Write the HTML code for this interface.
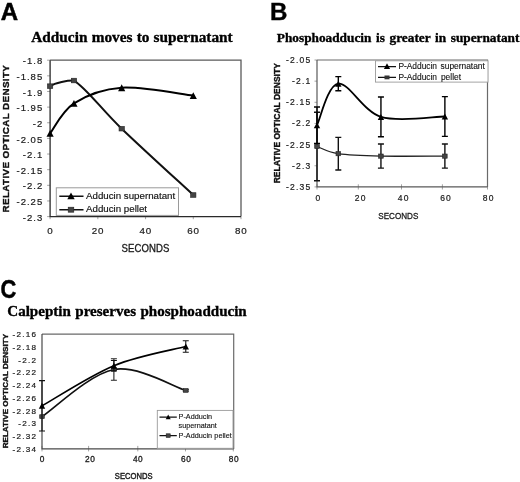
<!DOCTYPE html>
<html><head><meta charset="utf-8"><title>Adducin figure</title>
<style>
html,body{margin:0;padding:0;background:#fff;}
body{width:520px;height:482px;overflow:hidden;}
svg{display:block;will-change:transform;}
</style></head>
<body>
<svg width="520" height="482" viewBox="0 0 520 482">
<rect width="520" height="482" fill="#fff"/>
<text x="0.8" y="19.75" text-anchor="start" style="font-family:'Liberation Sans';font-size:24.0px;font-weight:bold;stroke:#000;stroke-width:0.5px;" fill="#000" >A</text>
<text x="270.1" y="19.6" text-anchor="start" style="font-family:'Liberation Sans';font-size:24.1px;font-weight:bold;stroke:#000;stroke-width:0.4px;" fill="#000" >B</text>
<g transform="translate(0.6,0) scale(0.855,1)">
<text x="-0.2" y="297.7" text-anchor="start" style="font-family:'Liberation Sans';font-size:25.6px;font-weight:bold;stroke:#000;stroke-width:0.5px;" fill="#000" >C</text>
</g>
<text x="31.3" y="41.8" text-anchor="start" style="font-family:'Liberation Serif';font-size:15.3px;font-weight:bold;stroke:#000;stroke-width:0.35px;word-spacing:0.4px;" fill="#000" >Adducin moves to supernatant</text>
<text x="276.8" y="42.2" text-anchor="start" style="font-family:'Liberation Serif';font-size:13.3px;font-weight:bold;stroke:#000;stroke-width:0.35px;word-spacing:1.3px;" fill="#000" >Phosphoadducin is greater in supernatant</text>
<text x="7.3" y="315.6" text-anchor="start" style="font-family:'Liberation Serif';font-size:15.05px;font-weight:bold;stroke:#000;stroke-width:0.35px;word-spacing:0.7px;" fill="#000" >Calpeptin preserves phosphoadducin</text>
<path d="M47.1,60.2 H50.1" stroke="#999" stroke-width="0.9"/>
<text x="43.2" y="64.3" text-anchor="end" style="font-family:'Liberation Sans';font-size:9.5px;font-weight:normal;stroke:#1a1a1a;stroke-width:0.2px;letter-spacing:1.0px;" fill="#1a1a1a" >-1.8</text>
<path d="M47.1,75.84 H50.1" stroke="#999" stroke-width="0.9"/>
<text x="43.2" y="79.94" text-anchor="end" style="font-family:'Liberation Sans';font-size:9.5px;font-weight:normal;stroke:#1a1a1a;stroke-width:0.2px;letter-spacing:1.0px;" fill="#1a1a1a" >-1.85</text>
<path d="M47.1,91.48 H50.1" stroke="#999" stroke-width="0.9"/>
<text x="43.2" y="95.58" text-anchor="end" style="font-family:'Liberation Sans';font-size:9.5px;font-weight:normal;stroke:#1a1a1a;stroke-width:0.2px;letter-spacing:1.0px;" fill="#1a1a1a" >-1.9</text>
<path d="M47.1,107.12 H50.1" stroke="#999" stroke-width="0.9"/>
<text x="43.2" y="111.22" text-anchor="end" style="font-family:'Liberation Sans';font-size:9.5px;font-weight:normal;stroke:#1a1a1a;stroke-width:0.2px;letter-spacing:1.0px;" fill="#1a1a1a" >-1.95</text>
<path d="M47.1,122.76 H50.1" stroke="#999" stroke-width="0.9"/>
<text x="43.2" y="126.86" text-anchor="end" style="font-family:'Liberation Sans';font-size:9.5px;font-weight:normal;stroke:#1a1a1a;stroke-width:0.2px;letter-spacing:1.0px;" fill="#1a1a1a" >-2</text>
<path d="M47.1,138.4 H50.1" stroke="#999" stroke-width="0.9"/>
<text x="43.2" y="142.5" text-anchor="end" style="font-family:'Liberation Sans';font-size:9.5px;font-weight:normal;stroke:#1a1a1a;stroke-width:0.2px;letter-spacing:1.0px;" fill="#1a1a1a" >-2.05</text>
<path d="M47.1,154.04 H50.1" stroke="#999" stroke-width="0.9"/>
<text x="43.2" y="158.14" text-anchor="end" style="font-family:'Liberation Sans';font-size:9.5px;font-weight:normal;stroke:#1a1a1a;stroke-width:0.2px;letter-spacing:1.0px;" fill="#1a1a1a" >-2.1</text>
<path d="M47.1,169.68 H50.1" stroke="#999" stroke-width="0.9"/>
<text x="43.2" y="173.78" text-anchor="end" style="font-family:'Liberation Sans';font-size:9.5px;font-weight:normal;stroke:#1a1a1a;stroke-width:0.2px;letter-spacing:1.0px;" fill="#1a1a1a" >-2.15</text>
<path d="M47.1,185.32 H50.1" stroke="#999" stroke-width="0.9"/>
<text x="43.2" y="189.42" text-anchor="end" style="font-family:'Liberation Sans';font-size:9.5px;font-weight:normal;stroke:#1a1a1a;stroke-width:0.2px;letter-spacing:1.0px;" fill="#1a1a1a" >-2.2</text>
<path d="M47.1,200.96 H50.1" stroke="#999" stroke-width="0.9"/>
<text x="43.2" y="205.06" text-anchor="end" style="font-family:'Liberation Sans';font-size:9.5px;font-weight:normal;stroke:#1a1a1a;stroke-width:0.2px;letter-spacing:1.0px;" fill="#1a1a1a" >-2.25</text>
<path d="M47.1,216.6 H50.1" stroke="#999" stroke-width="0.9"/>
<text x="43.2" y="220.7" text-anchor="end" style="font-family:'Liberation Sans';font-size:9.5px;font-weight:normal;stroke:#1a1a1a;stroke-width:0.2px;letter-spacing:1.0px;" fill="#1a1a1a" >-2.3</text>
<path d="M50.1,216.6 V219.2" stroke="#999" stroke-width="0.9"/>
<text x="50.3" y="234.2" text-anchor="middle" style="font-family:'Liberation Sans';font-size:9.8px;font-weight:normal;stroke:#1a1a1a;stroke-width:0.2px;letter-spacing:0.8px;" fill="#1a1a1a" >0</text>
<path d="M97.83,216.6 V219.2" stroke="#999" stroke-width="0.9"/>
<text x="98.03" y="234.2" text-anchor="middle" style="font-family:'Liberation Sans';font-size:9.8px;font-weight:normal;stroke:#1a1a1a;stroke-width:0.2px;letter-spacing:0.8px;" fill="#1a1a1a" >20</text>
<path d="M145.55,216.6 V219.2" stroke="#999" stroke-width="0.9"/>
<text x="145.75" y="234.2" text-anchor="middle" style="font-family:'Liberation Sans';font-size:9.8px;font-weight:normal;stroke:#1a1a1a;stroke-width:0.2px;letter-spacing:0.8px;" fill="#1a1a1a" >40</text>
<path d="M193.28,216.6 V219.2" stroke="#999" stroke-width="0.9"/>
<text x="193.48" y="234.2" text-anchor="middle" style="font-family:'Liberation Sans';font-size:9.8px;font-weight:normal;stroke:#1a1a1a;stroke-width:0.2px;letter-spacing:0.8px;" fill="#1a1a1a" >60</text>
<path d="M241,216.6 V219.2" stroke="#999" stroke-width="0.9"/>
<text x="241.2" y="234.2" text-anchor="middle" style="font-family:'Liberation Sans';font-size:9.8px;font-weight:normal;stroke:#1a1a1a;stroke-width:0.2px;letter-spacing:0.8px;" fill="#1a1a1a" >80</text>
<path d="M50.1,60.2 H241 V216.6" fill="none" stroke="#5a5a5a" stroke-width="1.3"/>
<path d="M50.1,60.2 V216.6 H241" fill="none" stroke="#2a2a2a" stroke-width="1.3"/>
<text transform="translate(145.5,251.6) scale(0.94,1)" text-anchor="middle" style="font-family:'Liberation Sans';font-size:10.2px;font-weight:normal;letter-spacing:0.1px;stroke:#1a1a1a;stroke-width:0.3px" fill="#1a1a1a">SECONDS</text>
<text transform="translate(9.2,138.6) rotate(-90)" text-anchor="middle" style="font-family:'Liberation Sans';font-size:9.8px;font-weight:bold;letter-spacing:0.38px;stroke:#111;stroke-width:0.35px" fill="#111">RELATIVE OPTICAL DENSITY</text>
<rect x="56.3" y="187.8" width="122.2" height="27.6" fill="#fff" stroke="#9a9a9a" stroke-width="1"/>
<path d="M59.3,196.2 H83.5 M59.3,209.8 H83.5" stroke="#111" stroke-width="1.6"/>
<path d="M71,192.4 L74.7,199.2 L67.3,199.2Z" fill="#000"/>
<rect x="68.2" y="207.2" width="5.6" height="5" fill="#444" stroke="#222" stroke-width="0.6"/>
<text x="86" y="198.9" text-anchor="start" style="font-family:'Liberation Sans';font-size:9.72px;font-weight:normal;stroke:#111;stroke-width:0.15px;" fill="#111" >Adducin supernatant</text>
<text x="86" y="212.3" text-anchor="start" style="font-family:'Liberation Sans';font-size:9.72px;font-weight:normal;stroke:#111;stroke-width:0.15px;" fill="#111" >Adducin pellet</text>
<path d="M50.1,86.16 C55.1,82.56 67.96,80.33 73.96,80.53 C85.89,87.62 101.8,109.62 121.69,128.7 C141.57,147.78 181.34,183.96 193.28,195.02" fill="none" stroke="#111" stroke-width="2.0" stroke-linecap="round"/>
<rect x="47.45" y="83.86" width="5.3" height="4.6" fill="#444" stroke="#222" stroke-width="0.6"/>
<rect x="71.31" y="78.23" width="5.3" height="4.6" fill="#444" stroke="#222" stroke-width="0.6"/>
<rect x="119.04" y="126.4" width="5.3" height="4.6" fill="#444" stroke="#222" stroke-width="0.6"/>
<rect x="190.62" y="192.72" width="5.3" height="4.6" fill="#444" stroke="#222" stroke-width="0.6"/>
<path d="M50.1,133.4 C54.08,128.39 62.03,110.98 73.96,103.37 C85.89,95.75 101.8,89.03 121.69,87.73 C141.57,86.42 181.34,94.24 193.28,95.55" fill="none" stroke="#000" stroke-width="2.0" stroke-linecap="round"/>
<path d="M50.1,130 L53.7,136.8 L46.5,136.8Z" fill="#000"/>
<path d="M73.96,99.97 L77.56,106.77 L70.36,106.77Z" fill="#000"/>
<path d="M121.69,84.33 L125.29,91.13 L118.09,91.13Z" fill="#000"/>
<path d="M193.28,92.15 L196.88,98.95 L189.68,98.95Z" fill="#000"/>
<path d="M314.5,60 H317" stroke="#999" stroke-width="0.9"/>
<text x="311.4" y="63" text-anchor="end" style="font-family:'Liberation Sans';font-size:8.5px;font-weight:normal;stroke:#1a1a1a;stroke-width:0.2px;letter-spacing:1.2px;" fill="#1a1a1a" >-2.05</text>
<path d="M314.5,81.15 H317" stroke="#999" stroke-width="0.9"/>
<text x="311.4" y="84.15" text-anchor="end" style="font-family:'Liberation Sans';font-size:8.5px;font-weight:normal;stroke:#1a1a1a;stroke-width:0.2px;letter-spacing:1.2px;" fill="#1a1a1a" >-2.1</text>
<path d="M314.5,102.3 H317" stroke="#999" stroke-width="0.9"/>
<text x="311.4" y="105.3" text-anchor="end" style="font-family:'Liberation Sans';font-size:8.5px;font-weight:normal;stroke:#1a1a1a;stroke-width:0.2px;letter-spacing:1.2px;" fill="#1a1a1a" >-2.15</text>
<path d="M314.5,123.45 H317" stroke="#999" stroke-width="0.9"/>
<text x="311.4" y="126.45" text-anchor="end" style="font-family:'Liberation Sans';font-size:8.5px;font-weight:normal;stroke:#1a1a1a;stroke-width:0.2px;letter-spacing:1.2px;" fill="#1a1a1a" >-2.2</text>
<path d="M314.5,144.6 H317" stroke="#999" stroke-width="0.9"/>
<text x="311.4" y="147.6" text-anchor="end" style="font-family:'Liberation Sans';font-size:8.5px;font-weight:normal;stroke:#1a1a1a;stroke-width:0.2px;letter-spacing:1.2px;" fill="#1a1a1a" >-2.25</text>
<path d="M314.5,165.75 H317" stroke="#999" stroke-width="0.9"/>
<text x="311.4" y="168.75" text-anchor="end" style="font-family:'Liberation Sans';font-size:8.5px;font-weight:normal;stroke:#1a1a1a;stroke-width:0.2px;letter-spacing:1.2px;" fill="#1a1a1a" >-2.3</text>
<path d="M314.5,186.9 H317" stroke="#999" stroke-width="0.9"/>
<text x="311.4" y="189.9" text-anchor="end" style="font-family:'Liberation Sans';font-size:8.5px;font-weight:normal;stroke:#1a1a1a;stroke-width:0.2px;letter-spacing:1.2px;" fill="#1a1a1a" >-2.35</text>
<path d="M317,184.3 V189.5" stroke="#999" stroke-width="0.9"/>
<text x="318.4" y="200.9" text-anchor="middle" style="font-family:'Liberation Sans';font-size:8.5px;font-weight:normal;stroke:#1a1a1a;stroke-width:0.2px;letter-spacing:1.2px;" fill="#1a1a1a" >0</text>
<path d="M358.3,184.3 V189.5" stroke="#999" stroke-width="0.9"/>
<text x="360.8" y="200.9" text-anchor="middle" style="font-family:'Liberation Sans';font-size:8.5px;font-weight:normal;stroke:#1a1a1a;stroke-width:0.2px;letter-spacing:1.2px;" fill="#1a1a1a" >20</text>
<path d="M401.5,184.3 V189.5" stroke="#999" stroke-width="0.9"/>
<text x="403.8" y="200.9" text-anchor="middle" style="font-family:'Liberation Sans';font-size:8.5px;font-weight:normal;stroke:#1a1a1a;stroke-width:0.2px;letter-spacing:1.2px;" fill="#1a1a1a" >40</text>
<path d="M442.4,184.3 V189.5" stroke="#999" stroke-width="0.9"/>
<text x="446.1" y="200.9" text-anchor="middle" style="font-family:'Liberation Sans';font-size:8.5px;font-weight:normal;stroke:#1a1a1a;stroke-width:0.2px;letter-spacing:1.2px;" fill="#1a1a1a" >60</text>
<path d="M487.5,184.3 V189.5" stroke="#999" stroke-width="0.9"/>
<text x="488.7" y="200.9" text-anchor="middle" style="font-family:'Liberation Sans';font-size:8.5px;font-weight:normal;stroke:#1a1a1a;stroke-width:0.2px;letter-spacing:1.2px;" fill="#1a1a1a" >80</text>
<path d="M317,60 H487.5 V186.9" fill="none" stroke="#6a6a6a" stroke-width="1.2"/>
<path d="M317,60 V186.9 H487.5" fill="none" stroke="#5a5a5a" stroke-width="1.2"/>
<text transform="translate(398.3,218.6) scale(0.87,1)" text-anchor="middle" style="font-family:'Liberation Sans';font-size:9.3px;font-weight:normal;letter-spacing:0.0px;stroke:#1a1a1a;stroke-width:0.3px" fill="#1a1a1a">SECONDS</text>
<text transform="translate(280.3,123.25) rotate(-90)" text-anchor="middle" style="font-family:'Liberation Sans';font-size:8.5px;font-weight:bold;letter-spacing:0.0px;stroke:#111;stroke-width:0.35px" fill="#111">RELATIVE OPTICAL DENSITY</text>
<rect x="375.5" y="60.8" width="112.5" height="21.3" fill="#fff" stroke="#9a9a9a" stroke-width="0.9"/>
<path d="M378,66.6 H396 M378,77.3 H396" stroke="#111" stroke-width="1.2"/>
<path d="M387,63.3 L390.1,68.9 L383.9,68.9Z" fill="#000"/>
<rect x="384.5" y="75.5" width="5" height="3.8" fill="#333"/>
<text x="398.4" y="68.9" text-anchor="start" style="font-family:'Liberation Sans';font-size:8.4px;font-weight:normal;stroke:#111;stroke-width:0.12px;word-spacing:1.2px;" fill="#111" >P-Adducin supernatant</text>
<text x="398.4" y="79.7" text-anchor="start" style="font-family:'Liberation Sans';font-size:8.4px;font-weight:normal;stroke:#111;stroke-width:0.12px;word-spacing:1.6px;" fill="#111" >P-Adducin pellet</text>
<path d="M317,146.5 C320.55,147.7 327.66,152.09 338.31,153.69 C348.97,155.29 363.18,155.7 380.94,156.11 C398.7,156.51 434.22,156.11 444.88,156.11" fill="none" stroke="#222" stroke-width="1.3" stroke-linecap="round"/>
<path d="M317,112.24 V180.77 M314,112.24 H320 M314,180.77 H320" stroke="#111" stroke-width="1.4" fill="none"/>
<path d="M338.31,137.41 V169.98 M335.31,137.41 H341.31 M335.31,169.98 H341.31" stroke="#111" stroke-width="1.4" fill="none"/>
<path d="M380.94,144.05 V168.16 M377.94,144.05 H383.94 M377.94,168.16 H383.94" stroke="#111" stroke-width="1.4" fill="none"/>
<path d="M444.88,144.05 V168.16 M441.88,144.05 H447.88 M441.88,168.16 H447.88" stroke="#111" stroke-width="1.4" fill="none"/>
<rect x="314.7" y="144.4" width="4.6" height="4.2" fill="#444" stroke="#222" stroke-width="0.6"/>
<rect x="336.01" y="151.59" width="4.6" height="4.2" fill="#444" stroke="#222" stroke-width="0.6"/>
<rect x="378.64" y="154.01" width="4.6" height="4.2" fill="#444" stroke="#222" stroke-width="0.6"/>
<rect x="442.57" y="154.01" width="4.6" height="4.2" fill="#444" stroke="#222" stroke-width="0.6"/>
<path d="M317,125.14 C320.55,118.23 327.66,85.06 338.31,83.69 C348.97,82.31 363.18,111.42 380.94,116.89 C398.7,122.36 434.22,116.58 444.88,116.51" fill="none" stroke="#000" stroke-width="1.8" stroke-linecap="round"/>
<path d="M317,106.95 V143.33 M314,106.95 H320 M314,143.33 H320" stroke="#000" stroke-width="1.4" fill="none"/>
<path d="M338.31,76.67 V90.71 M335.31,76.67 H341.31 M335.31,90.71 H341.31" stroke="#000" stroke-width="1.4" fill="none"/>
<path d="M380.94,97.01 V136.77 M377.94,97.01 H383.94 M377.94,136.77 H383.94" stroke="#000" stroke-width="1.4" fill="none"/>
<path d="M444.88,96.63 V136.39 M441.88,96.63 H447.88 M441.88,136.39 H447.88" stroke="#000" stroke-width="1.4" fill="none"/>
<path d="M317,122.14 L320.2,128.14 L313.8,128.14Z" fill="#000"/>
<path d="M338.31,80.69 L341.51,86.69 L335.11,86.69Z" fill="#000"/>
<path d="M380.94,113.89 L384.14,119.89 L377.74,119.89Z" fill="#000"/>
<path d="M444.88,113.51 L448.07,119.51 L441.68,119.51Z" fill="#000"/>
<text x="37.2" y="337.1" text-anchor="end" style="font-family:'Liberation Sans';font-size:8.1px;font-weight:normal;stroke:#1a1a1a;stroke-width:0.2px;letter-spacing:1.25px;" fill="#1a1a1a" >-2.16</text>
<text x="37.2" y="349.86" text-anchor="end" style="font-family:'Liberation Sans';font-size:8.1px;font-weight:normal;stroke:#1a1a1a;stroke-width:0.2px;letter-spacing:1.25px;" fill="#1a1a1a" >-2.18</text>
<text x="37.2" y="362.61" text-anchor="end" style="font-family:'Liberation Sans';font-size:8.1px;font-weight:normal;stroke:#1a1a1a;stroke-width:0.2px;letter-spacing:1.25px;" fill="#1a1a1a" >-2.2</text>
<text x="37.2" y="375.37" text-anchor="end" style="font-family:'Liberation Sans';font-size:8.1px;font-weight:normal;stroke:#1a1a1a;stroke-width:0.2px;letter-spacing:1.25px;" fill="#1a1a1a" >-2.22</text>
<text x="37.2" y="388.12" text-anchor="end" style="font-family:'Liberation Sans';font-size:8.1px;font-weight:normal;stroke:#1a1a1a;stroke-width:0.2px;letter-spacing:1.25px;" fill="#1a1a1a" >-2.24</text>
<text x="37.2" y="400.88" text-anchor="end" style="font-family:'Liberation Sans';font-size:8.1px;font-weight:normal;stroke:#1a1a1a;stroke-width:0.2px;letter-spacing:1.25px;" fill="#1a1a1a" >-2.26</text>
<text x="37.2" y="413.63" text-anchor="end" style="font-family:'Liberation Sans';font-size:8.1px;font-weight:normal;stroke:#1a1a1a;stroke-width:0.2px;letter-spacing:1.25px;" fill="#1a1a1a" >-2.28</text>
<text x="37.2" y="426.39" text-anchor="end" style="font-family:'Liberation Sans';font-size:8.1px;font-weight:normal;stroke:#1a1a1a;stroke-width:0.2px;letter-spacing:1.25px;" fill="#1a1a1a" >-2.3</text>
<text x="37.2" y="439.14" text-anchor="end" style="font-family:'Liberation Sans';font-size:8.1px;font-weight:normal;stroke:#1a1a1a;stroke-width:0.2px;letter-spacing:1.25px;" fill="#1a1a1a" >-2.32</text>
<text x="37.2" y="451.9" text-anchor="end" style="font-family:'Liberation Sans';font-size:8.1px;font-weight:normal;stroke:#1a1a1a;stroke-width:0.2px;letter-spacing:1.25px;" fill="#1a1a1a" >-2.34</text>
<path d="M42,445.9 V451.4" stroke="#999" stroke-width="0.9"/>
<text x="42.3" y="462" text-anchor="middle" style="font-family:'Liberation Sans';font-size:8.3px;font-weight:normal;stroke:#1a1a1a;stroke-width:0.3px;letter-spacing:0.6px;" fill="#1a1a1a" >0</text>
<path d="M88.6,445.9 V451.4" stroke="#999" stroke-width="0.9"/>
<text x="90.2" y="462" text-anchor="middle" style="font-family:'Liberation Sans';font-size:8.3px;font-weight:normal;stroke:#1a1a1a;stroke-width:0.3px;letter-spacing:0.6px;" fill="#1a1a1a" >20</text>
<path d="M137.8,445.9 V451.4" stroke="#999" stroke-width="0.9"/>
<text x="138.1" y="462" text-anchor="middle" style="font-family:'Liberation Sans';font-size:8.3px;font-weight:normal;stroke:#1a1a1a;stroke-width:0.3px;letter-spacing:0.6px;" fill="#1a1a1a" >40</text>
<path d="M185.5,445.9 V451.4" stroke="#999" stroke-width="0.9"/>
<text x="186.2" y="462" text-anchor="middle" style="font-family:'Liberation Sans';font-size:8.3px;font-weight:normal;stroke:#1a1a1a;stroke-width:0.3px;letter-spacing:0.6px;" fill="#1a1a1a" >60</text>
<path d="M233.3,445.9 V451.4" stroke="#999" stroke-width="0.9"/>
<text x="234" y="462" text-anchor="middle" style="font-family:'Liberation Sans';font-size:8.3px;font-weight:normal;stroke:#1a1a1a;stroke-width:0.3px;letter-spacing:0.6px;" fill="#1a1a1a" >80</text>
<path d="M42,334.1 H233.7 V448.9" fill="none" stroke="#6a6a6a" stroke-width="1.2"/>
<path d="M42,334.1 V448.9 H233.7" fill="none" stroke="#4a4a4a" stroke-width="1.2"/>
<text transform="translate(133.7,478.9) scale(0.93,1)" text-anchor="middle" style="font-family:'Liberation Sans';font-size:8.2px;font-weight:normal;letter-spacing:0.0px;stroke:#1a1a1a;stroke-width:0.4px" fill="#1a1a1a">SECONDS</text>
<text transform="translate(8.4,391.15) rotate(-90)" text-anchor="middle" style="font-family:'Liberation Sans';font-size:8.1px;font-weight:bold;letter-spacing:0.0px;stroke:#111;stroke-width:0.35px" fill="#111">RELATIVE OPTICAL DENSITY</text>
<rect x="157.3" y="410.4" width="75.7" height="37.9" fill="#fff" stroke="#9a9a9a" stroke-width="0.9"/>
<path d="M159.5,417.2 H176.8 M159.5,435.7 H176.8" stroke="#111" stroke-width="1.2"/>
<path d="M168.2,414.5 L170.7,419.3 L165.7,419.3Z" fill="#000"/>
<rect x="166.2" y="433.8" width="4" height="3.6" fill="#444" stroke="#222" stroke-width="0.6"/>
<text x="178.6" y="419.3" text-anchor="start" style="font-family:'Liberation Sans';font-size:7.25px;font-weight:normal;stroke:#111;stroke-width:0.12px;" fill="#111" >P-Adducin</text>
<text x="178.6" y="428.3" text-anchor="start" style="font-family:'Liberation Sans';font-size:7.25px;font-weight:normal;stroke:#111;stroke-width:0.12px;" fill="#111" >supernatant</text>
<text x="178.6" y="437.6" text-anchor="start" style="font-family:'Liberation Sans';font-size:7.25px;font-weight:normal;stroke:#111;stroke-width:0.12px;word-spacing:0.3px;" fill="#111" >P-Adducin pellet</text>
<path d="M42,416.63 C53.98,408.77 89.92,373.87 113.89,369.5 C137.85,365.13 173.79,386.93 185.77,390.42" fill="none" stroke="#111" stroke-width="1.7" stroke-linecap="round"/>
<path d="M113.89,358.78 V380.21 M110.89,358.78 H116.89 M110.89,380.21 H116.89" stroke="#222" stroke-width="1.1" fill="none"/>
<path d="M185.77,389.65 V391.18 M182.77,389.65 H188.77 M182.77,391.18 H188.77" stroke="#222" stroke-width="1.1" fill="none"/>
<rect x="39.7" y="414.73" width="4.6" height="3.8" fill="#444" stroke="#222" stroke-width="0.6"/>
<rect x="111.59" y="367.6" width="4.6" height="3.8" fill="#444" stroke="#222" stroke-width="0.6"/>
<rect x="183.47" y="388.52" width="4.6" height="3.8" fill="#444" stroke="#222" stroke-width="0.6"/>
<path d="M42,405.85 C53.98,399.15 89.92,375.57 113.89,365.67 C137.85,355.77 173.79,349.67 185.77,346.47" fill="none" stroke="#000" stroke-width="1.7" stroke-linecap="round"/>
<path d="M42,380.66 V431.04 M39,380.66 H45 M39,431.04 H45" stroke="#111" stroke-width="1.1" fill="none"/>
<path d="M113.89,360.57 V370.77 M110.89,360.57 H116.89 M110.89,370.77 H116.89" stroke="#111" stroke-width="1.1" fill="none"/>
<path d="M185.77,340.73 V352.21 M182.77,340.73 H188.77 M182.77,352.21 H188.77" stroke="#111" stroke-width="1.1" fill="none"/>
<path d="M42,402.85 L45.2,408.85 L38.8,408.85Z" fill="#000"/>
<path d="M113.89,362.67 L117.09,368.67 L110.69,368.67Z" fill="#000"/>
<path d="M185.77,343.47 L188.97,349.47 L182.57,349.47Z" fill="#000"/>
</svg>
</body></html>
